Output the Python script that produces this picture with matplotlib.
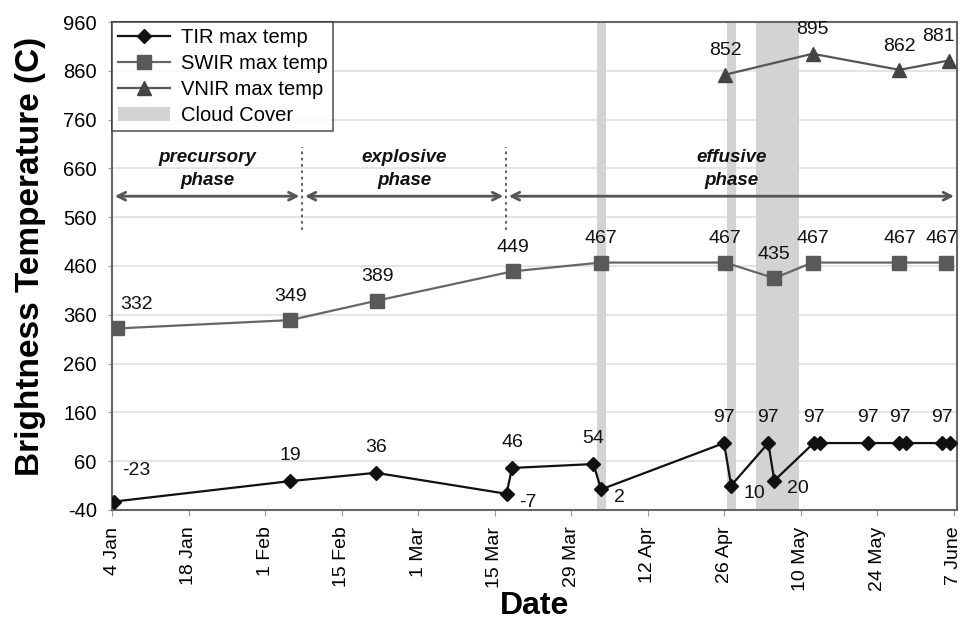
import matplotlib.pyplot as plt
from matplotlib.patches import Patch
from matplotlib.lines import Line2D

plt.rcParams['font.family'] = ['Liberation Sans', 'DejaVu Sans']
plt.rcParams['axes.unicode_minus'] = False

# x values are day of year (4 = 4 Jan)
tir_day = [4.3, 36.6, 52.3, 76.2, 77.2, 92.1, 93.5, 116.0, 117.3, 124.1, 125.2,
           132.4, 133.6, 142.4, 148.1, 149.3, 155.9, 157.3]
tir_temp = [-23, 19, 36, -7, 46, 54, 2, 97, 10, 97, 20, 97, 97, 97, 97, 97, 97, 97]
# which TIR points carry a label (close pairs share one)
tir_labelled = [1, 1, 1, 1, 1, 1, 1, 1, 1, 1, 1, 1, 0, 1, 1, 0, 1, 0]

swir_day = [5.0, 36.6, 52.5, 77.3, 93.5, 116.2, 125.2, 132.2, 148.1, 156.7]
swir_temp = [332, 349, 389, 449, 467, 467, 435, 467, 467, 467]

vnir_day = [116.2, 132.2, 148.1, 157.1]
vnir_temp = [852, 895, 862, 881]

cloud_start = [92.7, 116.6, 121.8]
cloud_end = [94.4, 118.2, 129.8]

tick_days = [4, 18, 32, 46, 60, 74, 88, 102, 116, 130, 144, 158]
tick_labels = ['4 Jan', '18 Jan', '1 Feb', '15 Feb', '1 Mar', '15 Mar', '29 Mar',
               '12 Apr', '26 Apr', '10 May', '24 May', '7 June']

phase_names = ['precursory\nphase', 'explosive\nphase', 'effusive\nphase']
phase_bounds = [4, 38.8, 76.1, 158.6]

fig = plt.figure(figsize=(9.6, 6.35), dpi=100)
ax = fig.add_axes([0.1167, 0.197, 0.8800, 0.7683])

for s, e in zip(cloud_start, cloud_end):
    ax.axvspan(s, e, color='#d3d3d3', lw=0, zorder=1)

ax.plot(tir_day, tir_temp, color='#111111', lw=1.6, marker='D', ms=7,
        zorder=4)
ax.plot(swir_day, swir_temp, color='#666666', lw=1.6, marker='s', ms=10,
        mfc='#595959', mec='#595959', zorder=3)
ax.plot(vnir_day, vnir_temp, color='#555555', lw=1.6, marker='^', ms=10,
        mfc='#444444', mec='#444444', zorder=3)

fs = 14
# data labels
right_lbl = {-7, 2, 10, 20}
for i, (d, t) in enumerate(zip(tir_day, tir_temp)):
    if not tir_labelled[i]:
        continue
    if t in right_lbl:
        ax.annotate(str(t), (d, t), xytext=(9, -6), textcoords='offset points',
                    fontsize=fs, ha='left', va='center', color='#111111')
    elif i == 0:
        ax.annotate(str(t), (d, t), xytext=(16, 16), textcoords='offset points',
                    fontsize=fs, ha='center', va='bottom', color='#111111')
    else:
        dx = 4 if i in (15, 17) else 0
        ax.annotate(str(t), (d, t), xytext=(dx, 12), textcoords='offset points',
                    fontsize=fs, ha='center', va='bottom', color='#111111')
for i, (d, t) in enumerate(zip(swir_day, swir_temp)):
    dx = 14 if i == 0 else (-3 if i == len(swir_day) - 1 else 0)
    ax.annotate(str(t), (d, t), xytext=(dx, 11), textcoords='offset points',
                fontsize=fs, ha='center', va='bottom', color='#111111')
for i, (d, t) in enumerate(zip(vnir_day, vnir_temp)):
    dx = -7 if i == len(vnir_day) - 1 else 0
    ax.annotate(str(t), (d, t), xytext=(dx, 11), textcoords='offset points',
                fontsize=fs, ha='center', va='bottom', color='#111111')

# phases
for k in range(3):
    a, b = phase_bounds[k], phase_bounds[k + 1]
    ax.annotate('', xy=(a, 603), xytext=(b, 603),
                arrowprops=dict(arrowstyle='<->', color='#555555', lw=2,
                                mutation_scale=14), zorder=5)
    ax.text((a + b) / 2, 659, phase_names[k], ha='center', va='center',
            fontsize=13.5, style='italic', fontweight='bold', linespacing=1.45,
            color='#111111')
for xb in phase_bounds[1:3]:
    ax.plot([xb, xb], [534, 704], color='#555555', lw=1.3, ls=(0, (1.5, 2)),
            zorder=5)

ax.set_xlim(4, 158.6)
ax.set_ylim(-40, 960)
ax.set_yticks(range(-40, 961, 100))
ax.set_xticks(tick_days)
ax.set_xticklabels(tick_labels, rotation=90, fontsize=14)
ax.tick_params(axis='y', labelsize=14.5, length=3, color='#999999', pad=8)
ax.tick_params(axis='x', length=4, color='#999999', pad=8)
ax.grid(axis='y', color='#e0e0e0', lw=1.2, zorder=0)
ax.set_axisbelow(True)
for sp in ax.spines.values():
    sp.set_color('#666666')
    sp.set_linewidth(1.5)

ax.set_ylabel('Brightness Temperature (C)', fontsize=24, fontweight='bold')
ax.yaxis.set_label_coords(-0.078, 0.52)
ax.set_xlabel('Date', fontsize=23, fontweight='bold', labelpad=0)

handles = [
    Line2D([], [], color='#111111', lw=1.6, marker='D', ms=7),
    Line2D([], [], color='#666666', lw=1.6, marker='s', ms=10,
           mfc='#595959', mec='#595959'),
    Line2D([], [], color='#555555', lw=1.6, marker='^', ms=10,
           mfc='#444444', mec='#444444'),
    Patch(facecolor='#d3d3d3', edgecolor='none'),
]
leg = ax.legend(handles, ['TIR max temp', 'SWIR max temp', 'VNIR max temp',
                          'Cloud Cover'],
                loc='upper left', bbox_to_anchor=(0, 1), fontsize=14.5,
                frameon=True, fancybox=False, borderaxespad=0,
                handlelength=2.6, handletextpad=0.5, labelspacing=0.35,
                borderpad=0.3)
leg.get_frame().set_edgecolor('#333333')
leg.get_frame().set_linewidth(1.2)

fig.savefig('out.png', dpi=100)
